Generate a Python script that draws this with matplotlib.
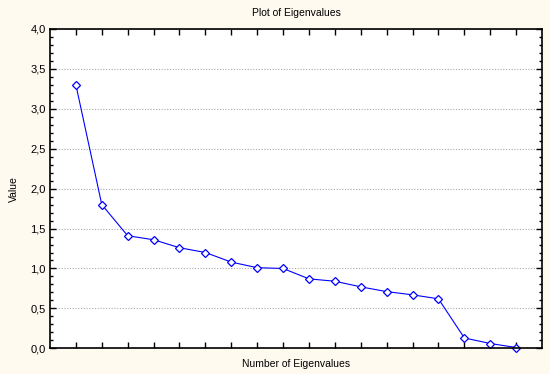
import matplotlib
matplotlib.use('Agg')
import matplotlib.pyplot as plt
from matplotlib.ticker import MultipleLocator, FuncFormatter

plt.rcParams['font.family'] = ['Liberation Sans', 'DejaVu Sans']

# eigenvalues
numbers = list(range(1, 19))
values = [3.30, 1.80, 1.41, 1.36, 1.26, 1.20, 1.08, 1.01, 1.00,
          0.87, 0.84, 0.77, 0.71, 0.67, 0.62, 0.13, 0.06, 0.01]

bg = '#fffaf0'
fig = plt.figure(figsize=(5.5, 3.74), dpi=100, facecolor=bg)
ax = fig.add_axes([0.0909, 0.0687, 0.8946, 0.8538])
ax.set_facecolor('white')

ax.plot(numbers, values, color='#0000ff', linewidth=0.8,
        marker='D', markersize=3.6, markerfacecolor='white',
        markeredgecolor='#0000ff', markeredgewidth=0.9, clip_on=False)

ax.set_xlim(0, 19)
ax.set_ylim(0, 4)
ax.set_xticks(numbers)
ax.set_xticklabels([])
ax.yaxis.set_major_locator(MultipleLocator(0.5))
ax.yaxis.set_minor_locator(MultipleLocator(0.1))
ax.yaxis.set_major_formatter(FuncFormatter(lambda v, p: f'{v:.1f}'.replace('.', ',')))
ax.tick_params(axis='both', which='both', direction='in', top=True, right=True,
               labelsize=8, width=1, color='black')
ax.tick_params(which='major', length=4)
ax.tick_params(which='minor', length=2)
ax.tick_params(axis='y', pad=3)
ax.grid(axis='y', which='major', linestyle=(0, (1, 1.5)), color='#aaaaaa', linewidth=0.8)
for s in ax.spines.values():
    s.set_linewidth(1.2)

ax.set_title('Plot of Eigenvalues', fontsize=7.5, pad=9)
ax.set_xlabel('Number of Eigenvalues', fontsize=7.5, labelpad=4)
ax.set_ylabel('Value', fontsize=7.5, labelpad=8)

fig.savefig('out.png', dpi=100, facecolor=bg)
